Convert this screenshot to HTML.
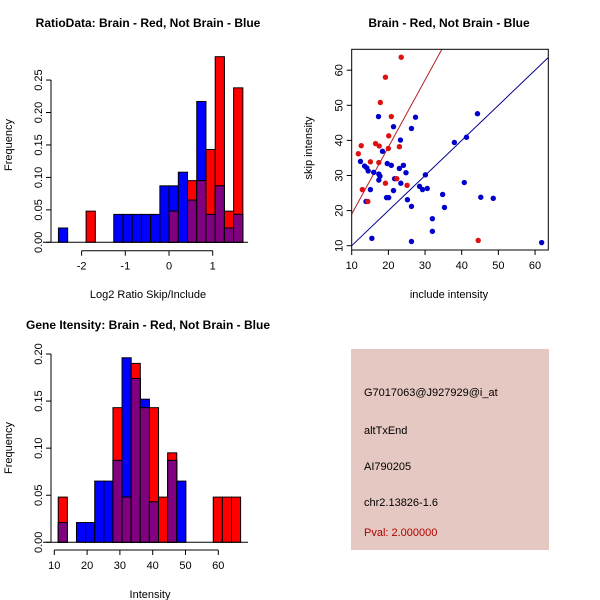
<!DOCTYPE html>
<html><head><meta charset="utf-8"><style>
body{margin:0;background:#fff;width:600px;height:600px;overflow:hidden}
svg{display:block;font-family:"Liberation Sans",sans-serif}
</style></head><body>
<svg id="c" width="600" height="600" viewBox="0 0 600 600"></svg>
<script>
// ---- Ratio histogram data ----
const ratioStart = -2.53, ratioWidth = 0.211;
const ratioBlue = [0.022,0,0,0,0,0,0.043,0.043,0.043,0.043,0.043,0.087,0.087,0.108,0.065,0.217,0.043,0.087,0.022,0.043];
const ratioRed  = [0,0,0,0.048,0,0,0,0,0,0,0,0,0.048,0,0.095,0.095,0.143,0.286,0.048,0.238];
const ratioXTicks = [-2,-1,0,1];
const ratioYTicks = [0,0.05,0.10,0.15,0.20,0.25];
// ---- Intensity histogram data ----
const intStart = 11.2, intWidth = 2.78;
const intBlue = [0.021,0,0.021,0.021,0.065,0.065,0.087,0.196,0.174,0.152,0.043,0,0.087,0.065,0,0,0,0,0,0];
const intRed  = [0.048,0,0,0,0,0,0.143,0.048,0.190,0.143,0.143,0.048,0.095,0,0,0,0,0.048,0.048,0.048];
const intXTicks = [10,20,30,40,50,60];
const intYTicks = [0,0.05,0.10,0.15,0.20];
// ---- Scatter data ----
const blueX = [12.4,13.5,14.1,14.5,13.9,15.1,15.5,16.0,17.3,17.4,17.4,17.7,18.4,19.7,19.5,20.1,20.8,21.4,21.4,21.7,23.0,23.3,23.4,24.1,24.8,25.2,26.3,26.3,26.3,27.4,28.5,29.3,30.1,30.6,32.0,32.0,34.8,35.3,38.0,40.7,41.3,44.3,45.2,48.6,61.8];
const blueY = [34.0,32.7,32.2,31.3,22.6,26.0,12.1,30.9,46.8,30.4,28.7,29.8,36.9,33.4,23.7,23.7,32.9,43.9,25.7,29.1,32.0,40.1,27.8,32.9,30.8,23.1,21.2,11.2,43.4,46.6,26.9,26.0,30.2,26.3,17.7,14.1,24.6,20.9,39.4,28.0,40.9,47.6,23.8,23.5,10.9];
const redX = [11.8,12.6,12.9,14.4,15.1,16.5,17.4,17.5,17.8,19.2,19.2,20.1,20.0,20.8,22.3,23.0,23.5,25.1,44.5];
const redY = [36.2,38.5,26.0,22.6,33.9,39.1,33.7,38.4,50.8,58.0,27.8,41.3,37.7,46.8,29.1,38.2,63.7,27.2,11.5];
const scXTicks = [10,20,30,40,50,60];
const scYTicks = [10,20,30,40,50,60];
const redLine = [19, 1.91]; // intercept at x=10, slope
const blueLine = [10, 1.0];

const NS='http://www.w3.org/2000/svg', svg=document.getElementById('c');
function el(tag,attrs,parent){const e=document.createElementNS(NS,tag);for(const k in attrs)e.setAttribute(k,attrs[k]);(parent||svg).appendChild(e);return e;}
function txt(s,attrs,parent){const e=el('text',attrs,parent);e.textContent=s;return e;}

function hist(g,start,width,blue,red,sx,sy,x0,x1){
  for(let i=0;i<blue.length;i++){
    const a=start+i*width,b=a+width;
    const draw=(v,col,nm)=>{ if(v<=0)return;
      const r=el('rect',{x:sx(a),y:sy(v),width:sx(b)-sx(a),height:sy(0)-sy(v),fill:col,stroke:'#000','stroke-width':1},g);
      
      
    };
    if(blue[i]>=red[i]){draw(blue[i],'#0000ff','blue');draw(red[i],'#ff0000','red');}
    else{draw(red[i],'#ff0000','red');draw(blue[i],'#0000ff','blue');}
    draw(Math.min(blue[i],red[i]),'#800080','overlap');
  }
  el('line',{x1:x0,x2:x1,y1:sy(0),y2:sy(0),stroke:'#000'},g);
}
function yaxis(g,ticks,sy,x,fmt){
  el('line',{x1:x,x2:x,y1:sy(ticks[0]),y2:sy(ticks[ticks.length-1]),stroke:'#000'},g);
  ticks.forEach(t=>{el('line',{x1:x-5,x2:x,y1:sy(t),y2:sy(t),stroke:'#000'},g);
    txt(fmt(t),{x:x-9,y:sy(t),'font-size':11,'text-anchor':'middle',transform:`rotate(-90 ${x-9} ${sy(t)})`},g);});
}
function xaxis(g,ticks,sx,y){
  el('line',{x1:sx(ticks[0]),x2:sx(ticks[ticks.length-1]),y1:y,y2:y,stroke:'#000'},g);
  ticks.forEach(t=>{el('line',{x1:sx(t),x2:sx(t),y1:y,y2:y+5,stroke:'#000'},g);
    txt(String(t),{x:sx(t),y:y+19,'font-size':11,'text-anchor':'middle'},g);});
}

// Panel 1
{const g=el('g',{});
const sx=v=>169+v*43.7, sy=v=>242.3-v*649;
hist(g,ratioStart,ratioWidth,ratioBlue,ratioRed,sx,sy,43,248);
yaxis(g,ratioYTicks,sy,51,t=>t.toFixed(2));
xaxis(g,ratioXTicks,sx,250.7);
txt('RatioData: Brain - Red, Not Brain - Blue',{x:148,y:27,'font-size':12,'font-weight':'bold','text-anchor':'middle'},g);
txt('Log2 Ratio Skip/Include',{x:148,y:298,'font-size':11,'text-anchor':'middle'},g);
txt('Frequency',{x:12,y:145,'font-size':11,'text-anchor':'middle',transform:'rotate(-90 12 145)'},g);}

// Panel 2 scatter
{const g=el('g',{});
const sx=v=>351.7+(v-10)*3.667, sy=v=>245.7-(v-10)*3.51;
const L=351.7,R=548.3,T=49.3,B=250;
el('clipPath',{id:'clp'},g); el('rect',{x:L,y:T,width:R-L,height:B-T},g.lastChild);
const cl=el('g',{'clip-path':'url(#clp)'},g);
const xa=10,xb=70;
const bl=el('line',{x1:sx(xa),y1:sy(blueLine[0]+blueLine[1]*(xa-10)),x2:sx(xb),y2:sy(blueLine[0]+blueLine[1]*(xb-10)),stroke:'#00008b'},cl);

const rl=el('line',{x1:sx(xa),y1:sy(redLine[0]+redLine[1]*(xa-10)),x2:sx(xb),y2:sy(redLine[0]+redLine[1]*(xb-10)),stroke:'#b22222'},cl);

blueX.forEach((x,i)=>{const c=el('circle',{cx:sx(x),cy:sy(blueY[i]),r:2.7,fill:'#0000cd'},g);
  });
redX.forEach((x,i)=>{const c=el('circle',{cx:sx(x),cy:sy(redY[i]),r:2.7,fill:'#dd1111'},g);
  });
el('rect',{x:L,y:T,width:R-L,height:B-T,fill:'none',stroke:'#000'},g);
scXTicks.forEach(t=>{el('line',{x1:sx(t),x2:sx(t),y1:B,y2:B+5,stroke:'#000'},g);txt(String(t),{x:sx(t),y:B+19,'font-size':11,'text-anchor':'middle'},g);});
scYTicks.forEach(t=>{el('line',{x1:L-5,x2:L,y1:sy(t),y2:sy(t),stroke:'#000'},g);txt(String(t),{x:L-9,y:sy(t),'font-size':11,'text-anchor':'middle',transform:`rotate(-90 ${L-9} ${sy(t)})`},g);});
txt('Brain - Red, Not Brain - Blue',{x:449,y:27,'font-size':12,'font-weight':'bold','text-anchor':'middle'},g);
txt('include intensity',{x:449,y:298,'font-size':11,'text-anchor':'middle'},g);
txt('skip intensity',{x:312,y:148,'font-size':11,'text-anchor':'middle',transform:'rotate(-90 312 148)'},g);}

// Panel 3
{const g=el('g',{});
const sx=v=>54.3+(v-10)*3.28, sy=v=>542.3-v*941.5;
hist(g,intStart,intWidth,intBlue,intRed,sx,sy,43,248);
yaxis(g,intYTicks,sy,51,t=>t.toFixed(2));
xaxis(g,intXTicks,sx,550);
txt('Gene Itensity: Brain - Red, Not Brain - Blue',{x:148,y:329,'font-size':12,'font-weight':'bold','text-anchor':'middle'},g);
txt('Intensity',{x:150,y:598,'font-size':11,'text-anchor':'middle'},g);
txt('Frequency',{x:12,y:448,'font-size':11,'text-anchor':'middle',transform:'rotate(-90 12 448)'},g);}

// Panel 4 info box
{const g=el('g',{});
el('rect',{x:351,y:349,width:198,height:201,fill:'#e5c8c1'},g);
const lines=[['G7017063@J927929@i_at',396,'#000','probe-id'],['altTxEnd',434,'#000','event-type'],['AI790205',470,'#000','accession'],['chr2.13826-1.6',506,'#000','location'],['Pval: 2.000000',536,'#b00000','pval']];
lines.forEach(l=>{const t=txt(l[0],{x:364,y:l[1],'font-size':11,fill:l[2]},g);});}
</script>
</body></html>
